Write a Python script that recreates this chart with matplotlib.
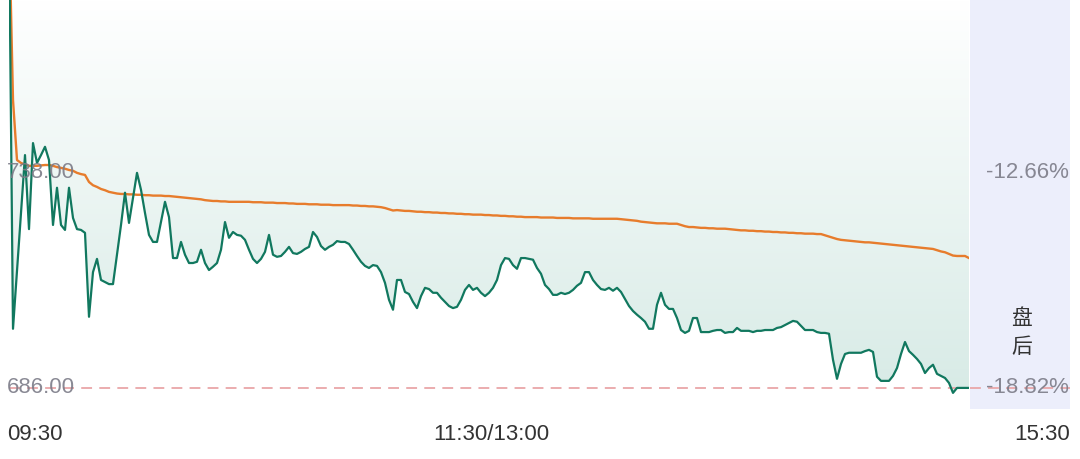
"""Intraday price chart with average line and post-market panel"""
import numpy as np
import matplotlib.pyplot as plt
from matplotlib.colors import LinearSegmentedColormap
from matplotlib.patches import Polygon

FONTS = ['Liberation Sans', 'Noto Sans CJK SC', 'DejaVu Sans']
plt.rcParams['font.family'] = FONTS

# one value per minute, 09:30 .. 11:30 / 13:00 .. 15:00
price = [
    799.0, 700.3, 714.3, 728.3, 742.3, 724.4, 745.2, 740.4, 742.3, 744.3,
    741.1, 725.4, 734.4, 725.4, 724.2, 734.4, 727.1, 724.4, 724.2, 723.5,
    703.2, 714.0, 717.2, 712.1, 711.6, 711.1, 711.1, 718.2, 725.4, 733.2,
    725.9, 731.9, 738.0, 733.9, 728.3, 723.0, 721.3, 721.3, 726.1, 731.0,
    727.3, 717.4, 717.4, 721.3, 718.2, 716.2, 716.2, 716.5, 719.4, 716.2,
    714.5, 715.3, 716.2, 719.4, 726.1, 722.3, 723.7, 723.0, 722.8, 721.8,
    719.4, 717.2, 716.2, 717.2, 718.9, 723.0, 718.2, 717.7, 717.9, 718.9,
    720.1, 718.6, 718.4, 718.9, 719.6, 720.1, 723.7, 722.5, 720.3, 719.4,
    720.1, 720.6, 721.5, 721.3, 721.3, 720.8, 719.4, 717.9, 716.5, 715.5,
    715.0, 715.7, 715.5, 714.0, 711.4, 707.3, 704.9, 712.1, 712.1, 709.2,
    708.7, 706.8, 705.3, 708.2, 710.2, 709.9, 709.0, 709.0, 707.8, 706.8,
    705.8, 705.3, 705.6, 707.3, 709.7, 710.9, 709.7, 710.2, 709.0, 708.2,
    709.0, 710.2, 712.1, 715.7, 717.4, 717.2, 715.7, 714.8, 717.4, 717.4,
    717.2, 717.0, 715.0, 713.6, 710.9, 709.9, 708.5, 708.5, 709.0, 708.7,
    709.0, 709.7, 710.7, 711.4, 714.0, 714.0, 712.1, 710.9, 709.9, 709.7,
    710.2, 709.5, 710.2, 709.2, 707.5, 705.8, 704.6, 703.7, 702.9, 702.0,
    700.3, 700.3, 706.1, 709.0, 706.1, 705.1, 705.1, 702.9, 700.0, 699.3,
    699.8, 702.9, 702.9, 699.5, 699.5, 699.5, 699.8, 700.0, 700.0, 699.3,
    699.5, 699.5, 700.5, 699.8, 699.8, 699.8, 699.5, 699.8, 699.8, 700.0,
    700.0, 700.0, 700.5, 700.7, 701.2, 701.7, 702.2, 702.0, 701.0, 700.0,
    700.0, 700.0, 699.5, 699.3, 699.3, 699.1, 692.8, 688.2, 691.8, 694.2,
    694.5, 694.5, 694.5, 694.5, 694.9, 695.2, 694.7, 688.7, 687.7, 687.7,
    687.7, 688.9, 690.8, 694.2, 697.1, 694.9, 694.0, 693.0, 691.8, 689.6,
    690.8, 691.6, 689.4, 688.9, 688.4, 687.2, 684.8, 686.0, 686.0, 686.0,
    686.0,
]

avg_price = [
    799.0, 755.6, 741.1, 740.4, 740.0, 739.7, 739.7, 739.7, 739.8, 739.9,
    739.9, 739.7, 739.4, 739.2, 739.0, 738.7, 738.5, 738.0, 737.7, 737.5,
    735.8, 735.0, 734.6, 734.1, 733.8, 733.4, 733.2, 733.0, 732.9, 732.9,
    732.8, 732.8, 732.7, 732.7, 732.6, 732.6, 732.5, 732.5, 732.5, 732.4,
    732.4, 732.3, 732.2, 732.1, 732.0, 731.9, 731.8, 731.7, 731.6, 731.4,
    731.3, 731.2, 731.2, 731.1, 731.1, 731.0, 731.0, 731.0, 731.0, 731.0,
    731.0, 730.9, 730.9, 730.9, 730.8, 730.8, 730.8, 730.7, 730.7, 730.7,
    730.6, 730.6, 730.5, 730.5, 730.5, 730.4, 730.4, 730.4, 730.3, 730.3,
    730.3, 730.2, 730.2, 730.2, 730.2, 730.2, 730.1, 730.1, 730.0, 730.0,
    729.9, 729.9, 729.8, 729.7, 729.5, 729.2, 728.9, 729.0, 728.9, 728.8,
    728.8, 728.7, 728.6, 728.6, 728.5, 728.5, 728.4, 728.4, 728.3, 728.3,
    728.2, 728.2, 728.1, 728.1, 728.0, 728.0, 727.9, 727.9, 727.9, 727.8,
    727.8, 727.7, 727.7, 727.6, 727.6, 727.5, 727.5, 727.4, 727.4, 727.3,
    727.3, 727.3, 727.3, 727.2, 727.2, 727.2, 727.2, 727.1, 727.1, 727.1,
    727.1, 727.0, 727.0, 727.0, 727.0, 727.0, 726.9, 726.9, 726.9, 726.9,
    726.9, 726.9, 726.9, 726.8, 726.7, 726.6, 726.5, 726.4, 726.2, 726.1,
    726.0, 725.9, 725.8, 725.8, 725.8, 725.7, 725.7, 725.7, 725.4, 725.1,
    724.9, 724.9, 724.8, 724.7, 724.7, 724.6, 724.6, 724.5, 724.5, 724.5,
    724.4, 724.3, 724.2, 724.1, 724.1, 724.0, 724.0, 723.9, 723.9, 723.8,
    723.8, 723.7, 723.7, 723.6, 723.6, 723.5, 723.5, 723.4, 723.4, 723.3,
    723.3, 723.3, 723.2, 723.2, 722.9, 722.6, 722.3, 722.0, 721.8, 721.7,
    721.6, 721.5, 721.4, 721.3, 721.2, 721.2, 721.1, 721.0, 720.9, 720.8,
    720.7, 720.6, 720.5, 720.4, 720.3, 720.2, 720.1, 720.0, 719.9, 719.8,
    719.7, 719.6, 719.3, 719.0, 718.8, 718.4, 718.0, 717.9, 717.9, 717.9,
    717.4,
]

y_labels = ['738.00', '686.00']
y_values = [738.0, 686.0]
pct_labels = ['-12.66%', '-18.82%']
time_labels = ['09:30', '11:30/13:00', '15:30']
low_line = 686.0

W, H = 1080, 459
fig = plt.figure(figsize=(W / 100, H / 100), dpi=100)

bottom_px = 409
ax = fig.add_axes([9 / W, 1 - bottom_px / H, 960 / W, bottom_px / H])
side = fig.add_axes([970 / W, 1 - bottom_px / H, 100 / W, bottom_px / H])
ylim = (680.9, 779.8)
minutes = np.arange(len(price))

for a in (ax, side):
    a.set_ylim(*ylim)
    a.set_axis_off()
ax.set_xlim(0, len(price) - 1)
side.set_xlim(0, 1)
side.add_patch(plt.Rectangle((0, 0), 1, 1, transform=side.transAxes,
                             facecolor='#eceefb', edgecolor='none', zorder=0))

# gradient between the price line and the top of the chart
cmap = LinearSegmentedColormap.from_list('fill', ['#ffffff', '#d6eae5'])
grad = np.linspace(0, 1, 256).reshape(-1, 1)
img = ax.imshow(grad, cmap=cmap, aspect='auto', origin='upper',
                extent=[0, len(price) - 1, ylim[0], ylim[1]], zorder=1)
poly_pts = [(0, ylim[1])] + list(zip(minutes, price)) + [(len(price) - 1, ylim[1])]
clip = Polygon(poly_pts, closed=True, transform=ax.transData, facecolor='none',
               edgecolor='none')
ax.add_patch(clip)
img.set_clip_path(clip)

ax.plot(minutes, avg_price, color='#e77c2c', lw=1.7, zorder=3)
ax.plot(minutes, price, color='#11785f', lw=1.6, zorder=4)

for a in (ax, side):
    a.axhline(low_line, color='#e9a6a8', lw=1.3, ls=(0, (6, 4)), zorder=2)

for lab, v in zip(y_labels, y_values):
    ax.text(-0.002, v, lab, transform=ax.get_yaxis_transform(), ha='left',
            va='center', fontsize=16, color='#7c7c88', alpha=0.9, zorder=5)
for lab, v in zip(pct_labels, y_values):
    side.text(0.985, v, lab, transform=side.get_yaxis_transform(), ha='right',
              va='center', fontsize=16, color='#7c7c88', alpha=0.9, zorder=5)

fig.text(1022 / W, 1 - 318 / H, '盘', ha='center', va='center', fontsize=15,
         color='#333333')
fig.text(1022 / W, 1 - 347 / H, '后', ha='center', va='center', fontsize=15,
         color='#333333')

ty = 1 - 434 / H
fig.text(7 / W, ty, time_labels[0], ha='left', va='center', fontsize=16, color='#333333')
fig.text(491 / W, ty, time_labels[1], ha='center', va='center', fontsize=16, color='#333333')
fig.text(1070 / W, ty, time_labels[2], ha='right', va='center', fontsize=16, color='#333333')

fig.savefig('out.png', dpi=100, facecolor='white')
